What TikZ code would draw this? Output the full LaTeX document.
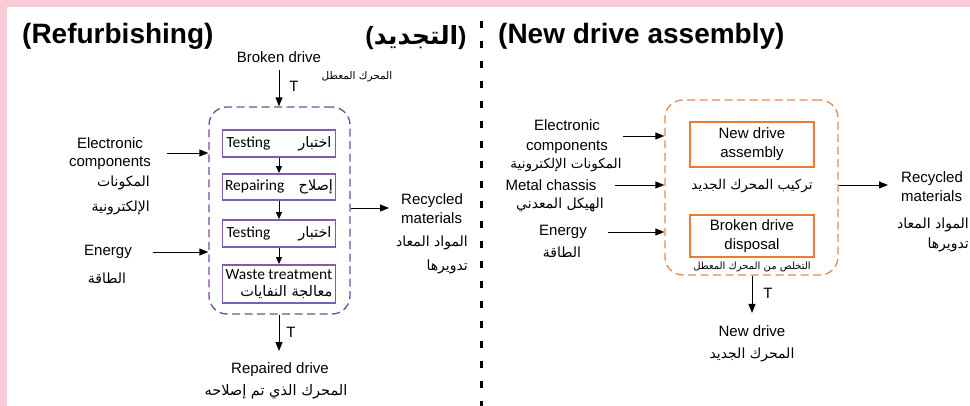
\documentclass[tikz,border=0pt]{standalone}
\usepackage{fontspec}
\setmainfont{Liberation Sans}
\newfontfamily\arf[Script=Arabic]{DejaVu Sans}
\newfontfamily\boxf{Carlito}
\TeXXeTstate=1
\usetikzlibrary{arrows.meta}
% Arabic runs, set right to left
\newcommand\artxt[1]{{\arf\beginR #1\endR}}
\newcommand\boxar[1]{{\fontsize{14.5}{16}\selectfont\arf\beginR #1\endR}}
\definecolor{pinkband}{RGB}{249,203,214}
\definecolor{purpleline}{RGB}{110,80,155}
\definecolor{purplebox}{RGB}{128,92,172}
\definecolor{orangeline}{RGB}{222,140,84}
\definecolor{orangebox}{RGB}{232,124,52}
\begin{document}
\begin{tikzpicture}[x=1pt,y=-1pt,
  lbl/.style={inner sep=0pt, align=center, font=\fontsize{15}{19}\selectfont},
  arl/.style={inner sep=0pt, align=center, font=\fontsize{14}{25}\selectfont},
  ttl/.style={inner sep=0pt, font=\bfseries\fontsize{28}{32}\selectfont},
  conn/.style={line width=0.9pt, -{Triangle[length=9pt,width=7pt]}},
  shortconn/.style={line width=0.9pt, -{Triangle[length=7pt,width=6pt]}},
  container/.style={draw, line width=1.3pt, dash pattern=on 8pt off 4.5pt, rounded corners=18pt, inner sep=0pt},
  pbox/.style={draw=purplebox, line width=1.8pt, fill=white, minimum width=113pt, inner sep=0pt, font=\boxf\fontsize{15.5}{18}\selectfont},
  obox/.style={draw=orangebox, line width=2.2pt, fill=white, minimum width=124pt, inner sep=0pt, align=center, font=\fontsize{15}{19}\selectfont},
]
\useasboundingbox (0,0) rectangle (970,406);
% frame bands
\fill[pinkband] (0,0) rectangle (970,7);
\fill[pinkband] (0,0) rectangle (7,406);

% divider between the two processes
\draw[line width=3pt, dash pattern=on 7pt off 13pt] (481.5,21) -- (481.5,406);

% ---------------- Refurbishing ----------------
\node[ttl, anchor=west] (ttlL) at (22,36) {(Refurbishing)};
\node[inner sep=0pt, font=\bfseries\fontsize{25}{28}\selectfont] (ttlLar) at (416,38) {(\artxt{التجديد})};

\node[lbl] (brk) at (279,57) {Broken drive};
\node[arl, font=\fontsize{10.5}{12}\selectfont] (brkar) at (357,77) {\artxt{المحرك المعطل}};
\node[lbl] (tin) at (294,86) {T};

\node[container, draw=purpleline, minimum width=141pt, minimum height=207pt] (lcont) at (279.5,210.5) {};

\node[pbox, minimum height=27pt] (t1) at (279,143.5) {\makebox[105pt]{Testing\hfill\boxar{اختبار}}};
\node[pbox, minimum height=26pt] (rep) at (279,187) {\makebox[108pt]{Repairing\hfill\boxar{إصلاح}}};
\node[pbox, minimum height=27pt] (t2) at (279,233.5) {\makebox[105pt]{Testing\hfill\boxar{اختبار}}};
\node[pbox, minimum height=38pt, align=right] (waste) at (279,284) {Waste treatment\\[-1pt]\boxar{معالجة النفايات}};

\draw[shortconn] (t1) -- (rep);
\draw[shortconn] (rep) -- (t2);
\draw[shortconn] (t2) -- (waste);

\coordinate (brkA) at (279,70);
\draw[conn] (brkA) -- (brkA |- lcont.north);

% inputs
\node[lbl, font=\fontsize{15}{18}\selectfont] (elecL) at (110,154) {Electronic\\components};
\node[arl, align=right, anchor=east] (elecLar) at (150,195.5) {\artxt{المكونات}\\\artxt{الإلكترونية}};
\coordinate (elecLA) at (167,153);
\draw[conn] (elecLA) -- (elecLA -| lcont.west);

\node[lbl] (enL) at (108,252) {Energy};
\node[arl] (enLar) at (107,278) {\artxt{الطاقة}};
\coordinate (enLA) at (153,252);
\draw[conn] (enLA) -- (enLA -| lcont.west);

% output
\coordinate (recLA) at (389,208);
\draw[conn] (recLA -| lcont.east) -- (recLA);
\node[lbl, anchor=west, align=left, font=\fontsize{15}{19}\selectfont] (recL) at (401,208.5) {Recycled\\materials};
\node[arl, align=right, anchor=east, font=\fontsize{14}{24}\selectfont] (recLar) at (468,255) {\artxt{المواد المعاد}\\\artxt{تدويرها}};

% product
\coordinate (repA) at (279,351);
\draw[conn] (repA |- lcont.south) -- (repA);
\node[lbl] (tout) at (291,332) {T};
\node[lbl] (repd) at (280,370) {Repaired drive};
\node[arl, font=\fontsize{14.5}{16}\selectfont] (repdar) at (276,392) {\artxt{المحرك الذي تم إصلاحه}};

% ---------------- New drive assembly ----------------
\node[ttl, anchor=west] (ttlR) at (498,36) {(New drive assembly)};

\node[container, draw=orangeline, minimum width=173pt, minimum height=175pt] (rcont) at (751.5,187.5) {};

\node[obox, minimum height=45pt] (nda) at (752,144.5) {New drive\\assembly};
\node[arl, font=\fontsize{13.5}{16}\selectfont] (ndaar) at (752,186) {\artxt{تركيب المحرك الجديد}};
\node[obox, minimum height=42pt] (bdd) at (752,236) {Broken drive\\disposal};
\node[arl, font=\fontsize{10}{12}\selectfont] (bddar) at (752,267) {\artxt{التخلص من المحرك المعطل}};

% inputs
\node[lbl, font=\fontsize{15}{20}\selectfont] (elecR) at (567,137) {Electronic\\components};
\node[arl, font=\fontsize{13.5}{16}\selectfont] (elecRar) at (566,165) {\artxt{المكونات الإلكترونية}};
\coordinate (elecRA) at (623,136);
\draw[conn] (elecRA) -- (elecRA -| rcont.west);

\node[lbl] (metal) at (551,185) {Metal chassis};
\node[arl] (metalar) at (560,205) {\artxt{الهيكل المعدني}};
\coordinate (metalA) at (615,185);
\draw[conn] (metalA) -- (metalA -| rcont.west);

\node[lbl] (enR) at (563,232) {Energy};
\node[arl] (enRar) at (562,252) {\artxt{الطاقة}};
\coordinate (enRA) at (608,232);
\draw[conn] (enRA) -- (enRA -| rcont.west);

% output
\coordinate (recRA) at (888,185);
\draw[conn] (recRA -| rcont.east) -- (recRA);
\node[lbl, anchor=west, align=left, font=\fontsize{15}{19}\selectfont] (recR) at (901,186.5) {Recycled\\materials};
\node[arl, align=right, anchor=east, font=\fontsize{14}{20}\selectfont] (recRar) at (969,235) {\artxt{المواد المعاد}\\\artxt{تدويرها}};

% product
\coordinate (ndA) at (752,313);
\draw[conn] (ndA |- rcont.south) -- (ndA);
\node[lbl] (toutR) at (768,293) {T};
\node[lbl] (newd) at (752,331) {New drive};
\node[arl] (newdar) at (752,355) {\artxt{المحرك الجديد}};
\end{tikzpicture}
\end{document}
